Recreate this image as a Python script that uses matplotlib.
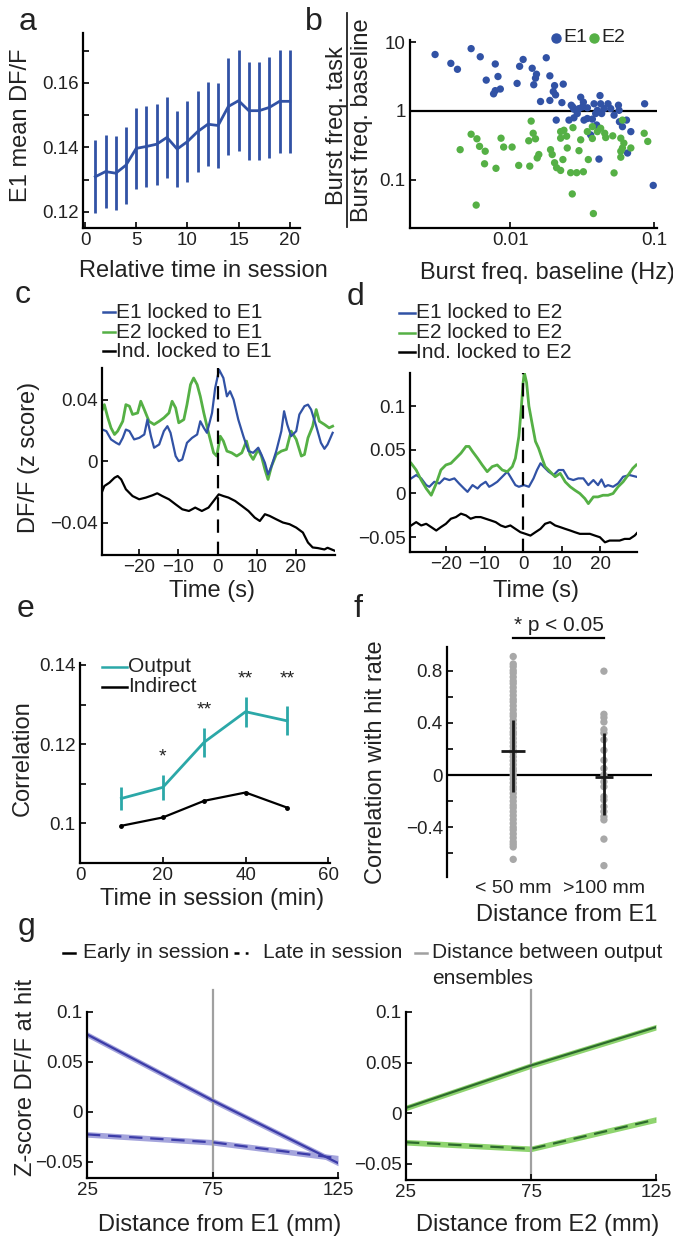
import numpy as np
import matplotlib
matplotlib.use('Agg')
import matplotlib.pyplot as plt
from matplotlib.lines import Line2D
from matplotlib.ticker import NullLocator

plt.rcParams['font.family'] = ['Liberation Sans', 'DejaVu Sans']
plt.rcParams['axes.linewidth'] = 1.6
plt.rcParams['xtick.direction'] = 'in'
plt.rcParams['ytick.direction'] = 'in'
plt.rcParams['xtick.labelsize'] = 13.5
plt.rcParams['ytick.labelsize'] = 13.5
plt.rcParams['text.color'] = '#222222'

TXT = '#222222'
BLUE = '#3152A5'
GREEN = '#55B045'
CYAN = '#2BA8A8'
GBLUE = '#3C3CA8'
GBLUE_BAND = '#A4A4DC'
GGREEN = '#2D6B2D'
GGREEN_BAND = '#8FD46F'
GRAY = '#A8A8A8'

# ---- panel a: E1 mean DF/F over session
a_time = list(range(1, 21))
a_mean = [0.1309, 0.1325, 0.1320, 0.1345, 0.1397, 0.1403, 0.1410, 0.1431, 0.1395, 0.1418,
          0.1449, 0.1472, 0.1468, 0.1527, 0.1545, 0.1514, 0.1514, 0.1524, 0.1543, 0.1543]
a_err = [0.0114, 0.0114, 0.0115, 0.0119, 0.0125, 0.0125, 0.0126, 0.0125, 0.0118, 0.0126,
         0.0125, 0.0130, 0.0131, 0.0151, 0.0157, 0.0152, 0.0152, 0.0157, 0.0159, 0.0160]

# ---- panel b: burst frequency ratio
b_e1_base = [0.00299, 0.00385, 0.00428, 0.00533, 0.00617, 0.00785, 0.0082, 0.00679, 0.00764, 0.00785,
             0.00851, 0.01114, 0.0116, 0.01227, 0.01419, 0.0152, 0.01496, 0.01455, 0.01778, 0.01884,
             0.02032, 0.0199, 0.02064, 0.02335, 0.01622, 0.01884, 0.02285, 0.02655, 0.02771, 0.03089,
             0.03224, 0.0317, 0.02924, 0.02771, 0.0256, 0.02086, 0.03258, 0.03436, 0.03826, 0.03928,
             0.0421, 0.04254, 0.04325, 0.04488, 0.04786, 0.05, 0.05275, 0.05657, 0.05715, 0.05749,
             0.06035, 0.0644, 0.06902, 0.0399, 0.0414, 0.03622, 0.0861, 0.06546, 0.0414, 0.09886,
             0.04036, 0.03724, 0.0272, 0.0300, 0.0344]
b_e1_ratio = [6.59, 4.90, 4.02, 8.02, 6.11, 4.80, 3.16, 2.80, 1.77, 1.97,
              2.08, 2.51, 4.44, 5.58, 4.16, 3.41, 2.99, 2.40, 5.91, 3.23,
              2.33, 1.91, 1.71, 2.45, 1.37, 1.42, 1.32, 1.21, 1.06, 1.58,
              1.34, 1.14, 0.916, 0.794, 0.736, 0.736, 0.736, 0.776, 1.27, 0.916,
              1.67, 1.27, 0.916, 1.08, 1.27, 1.08, 0.868, 1.21, 1.02, 0.697,
              0.591, 0.736, 0.501, 0.625, 0.560, 0.449, 1.27, 0.245, 0.20, 0.083,
              1.02, 0.760, 1.14, 1.08, 1.11]
b_e2_base = [0.01396, 0.00447, 0.00533, 0.00585, 0.0061, 0.00668, 0.00661, 0.00794, 0.00861, 0.00898,
             0.01028, 0.01143, 0.01365, 0.01343, 0.01442, 0.01496, 0.01538, 0.01578, 0.01905, 0.01956,
             0.02032, 0.02099, 0.02239, 0.02322, 0.0236, 0.02465, 0.0249, 0.03006, 0.03089, 0.02729,
             0.0263, 0.02897, 0.03224, 0.03491, 0.03724, 0.03724, 0.04254, 0.04539, 0.04614, 0.05164,
             0.05875, 0.06035, 0.05875, 0.05875, 0.06902, 0.08551, 0.09053, 0.05275, 0.02698, 0.00578,
             0.03786, 0.03436, 0.02239, 0.04036, 0.06035, 0.02239, 0.06172]
b_e2_ratio = [0.712, 0.274, 0.459, 0.394, 0.306, 0.260, 0.171, 0.147, 0.402, 0.299,
              0.299, 0.162, 0.158, 0.369, 0.474, 0.394, 0.208, 0.233, 0.274, 0.233,
              0.177, 0.150, 0.137, 0.197, 0.524, 0.430, 0.290, 0.265, 0.381, 0.572,
              0.127, 0.127, 0.131, 0.197, 0.398, 0.591, 0.560, 0.474, 0.411, 0.435,
              0.402, 0.290, 0.260, 0.213, 0.290, 0.474, 0.361, 0.126, 0.0624, 0.0430,
              0.0324, 0.501, 0.501, 0.501, 0.736, 0.402, 0.341]

# ---- panel c: traces locked to E1
c_t_e1 = [-29.4, -28.4, -27.2, -25.9, -25.1, -24.2, -23.4, -22.5, -21.3, -20.0, -18.7, -17.9, -17.0, -16.2,
          -14.9, -13.7, -12.8, -12.0, -10.7, -9.9, -9.0, -7.8, -6.5, -5.2, -4.4, -3.5, -2.7, -1.4, -0.6,
          0.4, 1.5, 2.4, 3.2, 4.1, 5.3, 6.6, 7.9, 9.1, 10.4, 11.2, 12.1, 12.9, 13.8, 15.0, 16.3, 17.0,
          17.8, 18.8, 20.1, 20.9, 22.2, 23.1, 23.9, 25.2, 26.4, 27.3, 28.1, 29.4]
c_e1 = [0.0205, 0.0195, 0.0141, 0.0119, 0.0108, 0.0151, 0.0205, 0.0195, 0.0141, 0.0151, 0.0173, 0.0270,
        0.0162, 0.0087, 0.0108, 0.0195, 0.0227, 0.0184, 0.0033, 0.0000, 0.0011, 0.0119, 0.0151, 0.0173,
        0.0259, 0.0216, 0.0184, 0.0313, 0.0475, 0.0594, 0.0540, 0.0421, 0.0454, 0.0400, 0.0270, 0.0162,
        0.0065, 0.0054, 0.0087, 0.0043, -0.0011, -0.0086, -0.0032, 0.0065, 0.0195, 0.0324, 0.0238,
        0.0162, 0.0195, 0.0303, 0.0357, 0.0367, 0.0335, 0.0227, 0.0119, 0.0080, 0.0108, 0.0184]
c_t_e2 = [-29.4, -28.9, -28.0, -27.2, -26.3, -25.5, -24.2, -23.4, -22.5, -21.7, -20.4, -19.6, -18.7, -17.5,
          -16.2, -14.9, -13.7, -12.4, -11.6, -10.7, -9.9, -8.6, -7.8, -6.9, -6.1, -5.2, -4.4, -3.5, -2.3,
          -1.0, -0.2, 0.7, 1.5, 2.4, 3.6, 4.9, 6.2, 7.4, 8.3, 9.1, 10.4, 11.2, 12.1, 12.9, 13.8, 15.0,
          16.3, 17.6, 18.8, 20.1, 21.4, 22.2, 23.1, 24.3, 25.2, 26.0, 27.3, 28.5, 29.4]
c_e2 = [0.0335, 0.0367, 0.0281, 0.0216, 0.0173, 0.0195, 0.0259, 0.0367, 0.0357, 0.0303, 0.0313, 0.0389,
        0.0335, 0.0259, 0.0238, 0.0259, 0.0281, 0.0313, 0.0389, 0.0346, 0.0249, 0.0270, 0.0367, 0.0497,
        0.0540, 0.0497, 0.0421, 0.0313, 0.0184, 0.0054, 0.0033, 0.0162, 0.0130, 0.0065, 0.0054, 0.0033,
        0.0054, 0.0130, 0.0043, 0.0011, 0.0076, 0.0033, -0.0054, -0.0119, -0.0032, 0.0043, 0.0065,
        0.0076, 0.0195, 0.0141, 0.0033, 0.0043, 0.0151, 0.0227, 0.0335, 0.0259, 0.0238, 0.0216, 0.0227]
c_t_ind = [-29.4, -28.9, -27.6, -26.3, -25.5, -24.6, -23.4, -21.7, -20.0, -18.3, -16.6, -15.4, -14.1,
           -12.4, -10.7, -9.0, -7.3, -5.7, -4.0, -2.3, -1.0, 0.3, 1.5, 2.8, 4.5, 6.2, 7.9, 9.5, 10.8,
           12.1, 13.3, 15.0, 16.7, 18.4, 20.1, 21.8, 23.1, 24.3, 25.6, 27.3, 28.1, 29.8]
c_ind = [-0.0194, -0.0162, -0.0140, -0.0108, -0.0097, -0.0119, -0.0183, -0.0227, -0.0248, -0.0237,
         -0.0222, -0.0209, -0.0227, -0.0248, -0.0281, -0.0313, -0.0324, -0.0302, -0.0324, -0.0302,
         -0.0259, -0.0216, -0.0227, -0.0237, -0.0259, -0.0291, -0.0324, -0.0367, -0.0389, -0.0345,
         -0.0356, -0.0378, -0.0399, -0.0410, -0.0432, -0.0464, -0.0529, -0.0561, -0.0565, -0.0574,
         -0.0563, -0.0581]

# ---- panel d: traces locked to E2
d_t_e1 = [-29.0, -27.7, -26.4, -25.1, -24.3, -23.0, -21.7, -20.4, -19.1, -17.8, -16.6, -15.3, -14.4,
          -13.1, -11.8, -11.0, -9.7, -8.8, -8.0, -6.7, -5.4, -4.1, -3.3, -2.0, -1.1, 0.2, 1.5, 2.7, 3.6,
          4.5, 5.3, 6.6, 7.9, 9.2, 10.4, 11.7, 13.0, 14.3, 15.6, 16.9, 18.2, 19.4, 20.3, 21.2, 22.0,
          23.3, 24.6, 25.9, 27.6, 29.3]
d_e1 = [0.0173, 0.0211, 0.0173, 0.0096, 0.0077, 0.0134, 0.0115, 0.0173, 0.0154, 0.0173, 0.0115, 0.0057,
        0.0019, 0.0096, 0.0057, 0.0096, 0.0134, 0.0077, 0.0096, 0.0134, 0.0192, 0.0250, 0.0192, 0.0096,
        0.0077, 0.0096, 0.0077, 0.0173, 0.0269, 0.0346, 0.0308, 0.0250, 0.0211, 0.0269, 0.0269, 0.0173,
        0.0154, 0.0173, 0.0173, 0.0096, 0.0154, 0.0096, 0.0161, 0.0077, 0.0096, 0.0077, 0.0115, 0.0192,
        0.0211, 0.0192]
d_t_e2 = [-29.0, -27.7, -26.4, -25.1, -23.8, -22.5, -21.3, -20.0, -18.7, -17.4, -16.1, -14.8, -14.0,
          -13.1, -11.8, -10.6, -9.3, -8.0, -6.7, -5.4, -4.1, -2.8, -2.0, -1.1, -0.5, 0.0, 0.3, 0.9, 1.5,
          2.3, 3.2, 4.0, 4.9, 5.7, 7.0, 8.3, 9.6, 10.9, 12.2, 13.4, 14.7, 16.0, 16.9, 18.2, 19.4, 20.7,
          22.0, 23.3, 24.6, 25.9, 27.2, 28.4, 29.3]
d_e2 = [0.0346, 0.0269, 0.0154, 0.0057, -0.0020, 0.0115, 0.0269, 0.0327, 0.0346, 0.0404, 0.0462, 0.0539,
        0.0539, 0.0481, 0.0404, 0.0327, 0.0250, 0.0308, 0.0327, 0.0269, 0.0250, 0.0308, 0.0404, 0.0654,
        0.0962, 0.1270, 0.1386, 0.1270, 0.1001, 0.0808, 0.0596, 0.0519, 0.0404, 0.0308, 0.0250, 0.0192,
        0.0231, 0.0134, 0.0077, 0.0038, 0.0000, -0.0058, -0.0116, -0.0039, -0.0039, -0.0020, -0.0020,
        0.0000, 0.0077, 0.0134, 0.0211, 0.0288, 0.0327]
d_t_ind = [-29.0, -27.7, -26.4, -25.1, -23.8, -22.5, -21.3, -20.0, -18.7, -17.4, -16.1, -14.8, -13.6,
           -12.3, -11.0, -9.7, -8.4, -7.1, -5.8, -4.6, -3.3, -2.0, -0.7, 0.6, 1.9, 3.2, 4.5, 5.7, 7.0,
           8.3, 9.6, 10.9, 12.2, 13.4, 14.7, 16.0, 17.3, 18.6, 19.9, 21.2, 22.4, 23.7, 25.0, 26.3, 27.6,
           28.9, 29.7]
d_ind = [-0.0366, -0.0328, -0.0366, -0.0347, -0.0385, -0.0424, -0.0385, -0.0347, -0.0289, -0.0270,
         -0.0231, -0.0251, -0.0289, -0.0270, -0.0270, -0.0289, -0.0308, -0.0328, -0.0366, -0.0385,
         -0.0366, -0.0405, -0.0443, -0.0462, -0.0482, -0.0443, -0.0405, -0.0347, -0.0328, -0.0366,
         -0.0385, -0.0405, -0.0424, -0.0443, -0.0462, -0.0462, -0.0462, -0.0482, -0.0501, -0.0559,
         -0.0539, -0.0539, -0.0539, -0.0520, -0.0520, -0.0482, -0.0443]

# ---- panel e: correlation over session
e_time = [10, 20, 30, 40, 50]
e_output = [0.1063, 0.1091, 0.1205, 0.1282, 0.1259]
e_output_err = [0.0030, 0.0031, 0.0037, 0.0038, 0.0037]
e_indirect = [0.0994, 0.1015, 0.1057, 0.1078, 0.1040]
e_stars = ['', '*', '**', '**', '**']
e_star_y = [None, 0.1168, 0.1287, 0.1364, 0.1364]

# ---- panel f: correlation with hit rate by distance
f_near = [0.907, 0.85, 0.83, 0.80, 0.78, 0.75, 0.72, 0.70, 0.67, 0.64, 0.61, 0.58, 0.56, 0.53, 0.50,
          0.47, 0.45, 0.42, 0.39, 0.36, 0.33, 0.31, 0.28, 0.25, 0.22, 0.19, 0.17, 0.14, 0.11, 0.08,
          0.05, 0.03, 0.00, -0.03, -0.06, -0.09, -0.11, -0.14, -0.17, -0.20, -0.23, -0.25, -0.28,
          -0.31, -0.34, -0.37, -0.40, -0.42, -0.45, -0.48, -0.51, -0.53, -0.55, -0.645]
f_far = [0.795, 0.465, 0.44, 0.406, 0.348, 0.322, 0.27, 0.19, 0.114, 0.051, 0.0, -0.051, -0.089,
         -0.165, -0.19, -0.241, -0.279, -0.318, -0.343, -0.49, -0.693]
f_mean = [0.183, -0.013]
f_err_low = [0.310, 0.292]
f_err_high = [0.241, 0.335]
f_labels = ['< 50 mm', '>100 mm']

# ---- panel g: z-score at hit vs distance
g_dist = [25, 75, 125]
g_e1_early = [0.0776, 0.0116, -0.0510]
g_e1_late = [-0.0224, -0.0303, -0.0462]
g_e2_early = [0.0053, 0.0471, 0.0850]
g_e2_late = [-0.0287, -0.0352, -0.0062]
g_band = 0.0028

W, H = 673, 1239
fig = plt.figure(figsize=(W / 100, H / 100), dpi=100)


def px_axes(l, t, r, b):
    return fig.add_axes([l / W, 1 - b / H, (r - l) / W, (b - t) / H])


def ftext(x, y, s, **kw):
    kw.setdefault('color', TXT)
    return fig.text(x / W, 1 - y / H, s, **kw)


def fline(xs, ys, **kw):
    fig.add_artist(Line2D([x / W for x in xs], [1 - y / H for y in ys],
                          transform=fig.transFigure, **kw))


def style(ax, bottom=True):
    ax.spines['top'].set_visible(False)
    ax.spines['right'].set_visible(False)
    if not bottom:
        ax.spines['bottom'].set_visible(False)
    ax.tick_params(which='both', length=4, width=1.2, pad=3, labelcolor=TXT)


LAB = 17
LEG = 15
LET = 23
DOT = 28

# panel a
ax = px_axes(83, 33, 300, 228)
style(ax)
ax.errorbar(a_time, a_mean, yerr=a_err, color=BLUE, lw=2, elinewidth=2, capsize=0)
ax.set_xlim(-0.2, 21)
ax.set_ylim(0.115, 0.1755)
ax.set_xticks([0, 5, 10, 15, 20])
ax.set_yticks([0.12, 0.14, 0.16], labels=['0.12', '0.14', '0.16'])
ax.set_yticks([0.13, 0.15, 0.17], minor=True)
ftext(203, 271, 'Relative time in session', fontsize=LAB, ha='center', va='center')
ftext(21, 125, 'E1 mean DF/F', fontsize=LAB, ha='center', va='center', rotation=90)

# panel b
ax = px_axes(410, 40, 657, 228)
style(ax)
ax.set_xscale('log')
ax.set_yscale('log')
ax.axhline(1, color='k', lw=1.6)
ax.scatter(b_e1_base, b_e1_ratio, s=DOT, color=BLUE, edgecolors='none', zorder=3)
ax.scatter(b_e2_base, b_e2_ratio, s=DOT, color=GREEN, edgecolors='none', zorder=3)
ax.set_xlim(0.002, 0.105)
ax.set_ylim(0.02, 10.7)
ax.set_xticks([0.01, 0.1], labels=['0.01', '0.1'])
ax.set_yticks([0.1, 1, 10], labels=['0.1', '1', '10'])
ax.xaxis.set_minor_locator(NullLocator())
ax.yaxis.set_minor_locator(NullLocator())
ftext(547, 273, 'Burst freq. baseline (Hz)', fontsize=LAB, ha='center', va='center')
ftext(337, 126, 'Burst freq. task', fontsize=LAB, ha='center', va='center', rotation=90)
fline([347, 347], [13, 227], color=TXT, lw=1.3)
ftext(362, 120, 'Burst freq. baseline', fontsize=LAB, ha='center', va='center', rotation=90)
fline([556], [38], marker='o', ms=6.5, color=BLUE, ls='none')
ftext(563, 38, 'E1', fontsize=14, va='center')
fline([594], [38], marker='o', ms=6.5, color=GREEN, ls='none')
ftext(601, 38, 'E2', fontsize=14, va='center')

# panel c
ax = px_axes(102, 368, 335, 555)
style(ax)
ax.plot(c_t_e2, c_e2, color=GREEN, lw=2)
ax.plot(c_t_e1, c_e1, color=BLUE, lw=1.6)
ax.plot(c_t_ind, c_ind, color='k', lw=1.6)
ax.axvline(0, color='k', lw=1.6, dashes=(6, 4))
ax.set_xlim(-29.5, 30)
ax.set_ylim(-0.061, 0.0605)
ax.set_xticks([-20, -10, 0, 10, 20])
ax.set_yticks([-0.04, 0, 0.04], labels=['\u22120.04', '0', '0.04'])
ftext(212, 591, 'Time (s)', fontsize=LAB, ha='center', va='center')
ftext(29, 457, 'DF/F (z score)', fontsize=LAB, ha='center', va='center', rotation=90)
for y, col, lab in [(312, BLUE, 'E1 locked to E1'), (332, GREEN, 'E2 locked to E1'),
                    (351, 'k', 'Ind. locked to E1')]:
    fline([103, 115], [y, y], color=col, lw=1.8)
    ftext(116, y, lab, fontsize=LEG, va='center')

# panel d
ax = px_axes(410, 373, 637, 552)
style(ax)
ax.plot(d_t_e1, d_e1, color=BLUE, lw=1.6)
ax.plot(d_t_e2, d_e2, color=GREEN, lw=2)
ax.plot(d_t_ind, d_ind, color='k', lw=1.6)
ax.axvline(0, color='k', lw=1.6, dashes=(6, 4))
ax.set_xlim(-29.3, 29.5)
ax.set_ylim(-0.067, 0.138)
ax.set_xticks([-20, -10, 0, 10, 20])
ax.set_yticks([-0.05, 0, 0.05, 0.1], labels=['\u22120.05', '0', '0.05', '0.1'])
ftext(536, 591, 'Time (s)', fontsize=LAB, ha='center', va='center')
for y, col, lab in [(313, BLUE, 'E1 locked to E2'), (333, GREEN, 'E2 locked to E2'),
                    (352, 'k', 'Ind. locked to E2')]:
    fline([399, 415], [y, y], color=col, lw=1.8)
    ftext(416, y, lab, fontsize=LEG, va='center')

# panel e
ax = px_axes(80, 663, 330, 863)
style(ax)
ax.errorbar(e_time, e_output, yerr=e_output_err, color=CYAN, lw=2, elinewidth=2, capsize=0)
ax.plot(e_time, e_indirect, color='k', lw=1.6, marker='o', ms=2.5)
for x, s, y in zip(e_time, e_stars, e_star_y):
    if s:
        ax.text(x, y, s, ha='center', va='center', fontsize=14, color=TXT)
ax.set_xlim(0, 60.4)
ax.set_ylim(0.09, 0.1405)
ax.set_xticks([0, 20, 40, 60])
ax.set_yticks([0.1, 0.12, 0.14], labels=['0.1', '0.12', '0.14'])
ax.set_yticks([0.11, 0.13], minor=True)
ftext(212, 899, 'Time in session (min)', fontsize=LAB, ha='center', va='center')
ftext(23, 758, 'Correlation', fontsize=LAB, ha='center', va='center', rotation=90)
for y, col, lab in [(667, CYAN, 'Output'), (687, 'k', 'Indirect')]:
    fline([102, 127], [y, y], color=col, lw=1.8)
    ftext(128, y, lab, fontsize=LEG, va='center')

# panel f
ax = px_axes(447, 647, 652, 877)
style(ax, bottom=False)
ax.axhline(0, color='k', lw=1.6)
ax.scatter([1] * len(f_near), f_near, s=DOT, color=GRAY, edgecolors='none', zorder=2)
ax.scatter([2] * len(f_far), f_far, s=DOT, color=GRAY, edgecolors='none', zorder=2)
ax.errorbar([1, 2], f_mean, yerr=[f_err_low, f_err_high], xerr=[0.13, 0.1], fmt='none',
            ecolor='#1a1a1a', elinewidth=2, capsize=0, zorder=3)
ax.set_xlim(0.27, 2.53)
ax.set_ylim(-0.78, 0.98)
ax.set_xticks([1, 2], labels=f_labels)
ax.tick_params(axis='x', length=0, pad=2, labelsize=14)
ax.set_yticks([-0.4, 0, 0.4, 0.8], labels=['\u22120.4', '0', '0.4', '0.8'])
ax.set_yticks([-0.6, -0.2, 0.2, 0.6], minor=True)
ax.plot([1, 2], [1.05, 1.05], color='k', lw=1.6, clip_on=False)
ax.text(1.5, 1.07, '* p < 0.05', ha='center', va='bottom', fontsize=LEG, color=TXT)
ftext(567, 915, 'Distance from E1', fontsize=LAB, ha='center', va='center')
ftext(376, 762, 'Correlation with hit rate', fontsize=LAB, ha='center', va='center', rotation=90)

# panel g
for rect, early, late, col, band, lab in [
        ((87, 1012, 338, 1178), g_e1_early, g_e1_late, GBLUE, GBLUE_BAND, 'Distance from E1 (mm)'),
        ((406, 1012, 656, 1180), g_e2_early, g_e2_late, GGREEN, GGREEN_BAND, 'Distance from E2 (mm)')]:
    ax = px_axes(*rect)
    style(ax)
    for vals, ls in [(early, '-'), (late, '--')]:
        lo = [v - g_band for v in vals]
        hi = [v + g_band for v in vals]
        ax.fill_between(g_dist, lo, hi, color=band, lw=0)
        if ls == '-':
            ax.plot(g_dist, vals, color=col, lw=1.6)
        else:
            ax.plot(g_dist, vals, color=col, lw=1.6, dashes=(6, 3.5))
    ax.plot([75, 75], [-0.066, 0.122], color='#A0A0A0', lw=1.6, clip_on=False, zorder=1)
    ax.set_xlim(25, 125)
    ax.set_ylim(-0.066, 0.1)
    ax.set_xticks([25, 75, 125])
    ax.set_yticks([-0.05, 0, 0.05, 0.1], labels=['\u22120.05', '0', '0.05', '0.1'])
    ftext((rect[0] + rect[2]) / 2 + 7, 1225, lab, fontsize=LAB, ha='center', va='center')
ftext(26, 1077, 'Z-score DF/F at hit', fontsize=LAB, ha='center', va='center', rotation=90)

fline([63, 75], [953, 953], color='k', lw=1.8)
ftext(83, 953, 'Early in session', fontsize=LEG, va='center')
fline([234, 248], [953, 953], color='k', lw=1.8, dashes=(2, 2.5))
ftext(263, 953, 'Late in session', fontsize=LEG, va='center')
fline([415, 427], [953, 953], color='#A0A0A0', lw=1.8)
ftext(432, 953, 'Distance between output', fontsize=LEG, va='center')
ftext(432, 978, 'ensembles', fontsize=LEG, va='center')

# panel letters
for x, y, s in [(19, 30, 'a'), (305, 30, 'b'), (15, 303, 'c'), (347, 305, 'd'),
                (17, 617, 'e'), (353, 617, 'f'), (18, 935, 'g')]:
    ftext(x, y, s, fontsize=LET, va='baseline', ha='left')

fig.savefig('out.png', dpi=100)
